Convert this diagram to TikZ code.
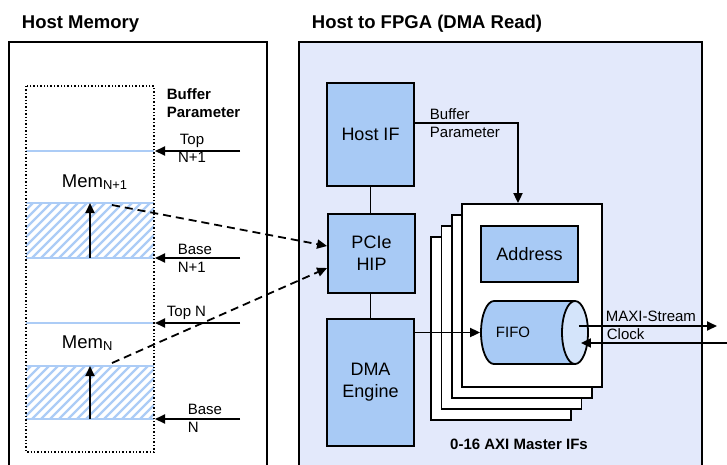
\documentclass[tikz,border=0pt]{standalone}
\usepackage{fontspec}
\setmainfont{Liberation Sans}
\usetikzlibrary{arrows.meta}
\definecolor{nback}{RGB}{227,233,251}
\definecolor{nblue}{RGB}{168,202,245}
\definecolor{nlight}{RGB}{212,228,250}
\definecolor{nhatch}{RGB}{172,204,246}

\begin{document}
\begin{tikzpicture}[x=1pt, y=-1pt, line width=1.8pt, >={Triangle[length=10pt,width=9pt]},
    blk/.style={draw, fill=nblue, minimum width=87pt, align=center, font=\fontsize{18}{22}\selectfont},
    stk/.style={draw, fill=white},
    lbl/.style={inner sep=0pt, align=left, font=\fontsize{15}{18}\selectfont},
    ttl/.style={inner sep=0pt, anchor=base west, font=\fontsize{18.5}{22}\selectfont\bfseries},
    mem/.style={inner sep=0pt, anchor=base west, font=\fontsize{18.5}{22}\selectfont}]
    \clip (0,0) rectangle (727,464);
    \draw (9,42) rectangle (267,480);
    \draw [fill=nback] (299,42) rectangle (702,480);
    \node[ttl] (thm) at (21,28.5) {Host Memory};
    \node[ttl] (tdma) at (311,28.5) {Host to FPGA (DMA Read)};

    \foreach \t/\b in {203/258,366/419} {
        \begin{scope}
            \clip (26,\t) rectangle (154,\b);
            \foreach \k in {-40,-31,...,160}
                \draw [nhatch, line width=2.4pt] (\k,\b) -- ++(60,-60);
        \end{scope}
    }
    \foreach \y in {151,203,258,323,366,419}
        \draw [nhatch, line width=2.2pt] (26,\y) -- (154,\y);
    \draw [dotted, line width=1.4pt] (26,86) rectangle (154,452);
    \node[mem] (m1) at (61,187) {Mem\textsubscript{N+1}};
    \node[mem] (m0) at (61,348) {Mem\textsubscript{N}};
    \node[lbl, font=\fontsize{15}{18}\selectfont\bfseries, anchor=west] (bpar) at (166,103.5) {Buffer\\Parameter};
    \node[lbl, align=center] (ltn1) at (192,148.5) {Top\\N+1};
    \node[lbl, anchor=west] (lbn1) at (177,258) {Base\\N+1};
    \node[lbl, anchor=base west] (ltn) at (166,316) {Top N};
    \node[lbl, anchor=west] (lbn) at (187,418.5) {Base\\N};
    \foreach \y/\n in {151/tn1,258/bn1,323/tn,419/bn} {
        \coordinate (\n a) at (240,\y);
        \coordinate (\n b) at (155,\y);
        \draw [->] (\n a) -- (\n b);
    }
    \coordinate (u1a) at (90,258);
    \coordinate (u1b) at (90,203);
    \coordinate (u0a) at (90,419);
    \coordinate (u0b) at (90,366);
    \draw [->] (u1a) -- (u1b);
    \draw [->] (u0a) -- (u0b);

    \node[blk, minimum height=103pt] (hostif) at (370.5,134.5) {Host IF};
    \node[blk, minimum height=79pt] (pcie) at (371.5,253.5) {PCIe\\HIP};
    \node[blk, minimum height=127pt] (dma) at (370.5,382.5) {DMA\\Engine};
    \draw (hostif.south) -- (hostif.south |- pcie.north);
    \draw (pcie.south -| hostif.south) -- (dma.north -| hostif.south);

    \coordinate (d1) at (112,205);
    \coordinate (d0) at (112,363);
    \draw [->, dash pattern=on 8pt off 5pt] (d1) -- ([yshift=7.5pt]pcie.west);
    \draw [->, dash pattern=on 8pt off 5pt] (d0) -- ([yshift=-14.5pt]pcie.west);

    \foreach \i in {3,2,1}
        \draw [stk] (462-10.3*\i,204+11*\i) rectangle ++(140,183);
    \node[stk, minimum width=140pt, minimum height=183pt] (axi) at (532,295.5) {};
    \node[blk, minimum width=97pt, minimum height=56pt] (addr) at (529.5,254) {Address};
    \node[inner sep=0pt, minimum width=107pt, minimum height=63pt] (fifo) at (534.5,332.5) {};
    \draw [fill=nblue] (575,301) -- (494,301) arc [start angle=90, end angle=270, x radius=13pt, y radius=31.5pt] -- (575,364);
    \draw [fill=nlight] (575,332.5) ellipse [x radius=13pt, y radius=31.5pt];
    \node[lbl] (lfifo) at (513,332) {FIFO};
    \node[lbl, font=\fontsize{15}{18}\selectfont\bfseries, align=center] (laxi) at (519,444) {0-16 AXI Master IFs};

    \coordinate (bp) at (518,123);
    \draw [->] (hostif.east |- bp) -- (bp) -- (bp |- axi.north);
    \node[lbl, anchor=west] (lbp) at (429,123.5) {Buffer\\Parameter};
    \draw [->] (fifo.west -| dma.east) -- (fifo.west);

    \coordinate (mout) at (717,326);
    \coordinate (cin) at (727,343);
    \draw [->] ([xshift=-10pt,yshift=6.5pt]fifo.east) -- (mout);
    \draw [->] (cin) -- ([xshift=-8pt,yshift=-10.5pt]fifo.east);
    \node[lbl, anchor=base west] (lmaxi) at (605,321) {MAXI-Stream};
    \node[lbl, anchor=base west] (lclk) at (606,339) {Clock};
\end{tikzpicture}
\end{document}
